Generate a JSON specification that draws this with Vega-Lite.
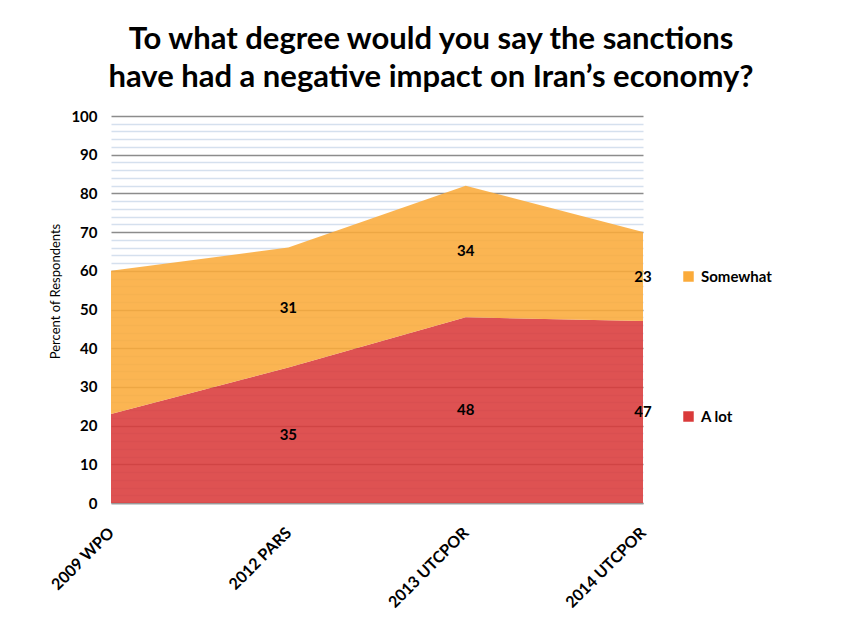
{
  "$schema": "https://vega.github.io/schema/vega-lite/v6.json",
  "autosize": "none",
  "width": 532,
  "height": 387,
  "padding": {"left": 111, "top": 116, "right": 208, "bottom": 121},
  "background": "white",
  "config": {
    "font": "Lato",
    "view": {"stroke": null}
  },
  "title": {
    "text": ["To what degree would you say the sanctions", "have had a negative impact on Iran’s economy?"],
    "font": "Lato",
    "fontSize": 31,
    "fontWeight": "bold",
    "color": "#000000",
    "anchor": "middle",
    "frame": "group",
    "dx": 54,
    "lineHeight": 38,
    "offset": 15
  },
  "data": {
    "values": [
      {"survey": "2009 WPO", "response": "A lot", "rank": 1, "value": 23},
      {"survey": "2009 WPO", "response": "Somewhat", "rank": 2, "value": 37},
      {"survey": "2012 PARS", "response": "A lot", "rank": 1, "value": 35},
      {"survey": "2012 PARS", "response": "Somewhat", "rank": 2, "value": 31},
      {"survey": "2013 UTCPOR", "response": "A lot", "rank": 1, "value": 48},
      {"survey": "2013 UTCPOR", "response": "Somewhat", "rank": 2, "value": 34},
      {"survey": "2014 UTCPOR", "response": "A lot", "rank": 1, "value": 47},
      {"survey": "2014 UTCPOR", "response": "Somewhat", "rank": 2, "value": 23}
    ]
  },
  "transform": [
    {"stack": "value", "groupby": ["survey"], "sort": [{"field": "rank", "order": "ascending"}], "as": ["y0", "y1"]},
    {"calculate": "(datum.y0 + datum.y1) / 2", "as": "ymid"}
  ],
  "encoding": {
    "x": {
      "field": "survey",
      "type": "ordinal",
      "scale": {"type": "point", "padding": 0},
      "axis": {
        "title": null,
        "labelAngle": -45,
        "labelAlign": "right",
        "labelBaseline": "middle",
        "labelFont": "Lato",
        "labelFontSize": 16,
        "labelFontWeight": "bold",
        "labelColor": "#000000",
        "labelPadding": 27,
        "labelOverlap": false,
        "ticks": false,
        "domain": true,
        "domainColor": "#999999",
        "domainWidth": 1.5,
        "grid": false
      }
    }
  },
  "layer": [
    {
      "mark": {"type": "area", "opacity": 0.88, "interpolate": "linear"},
      "encoding": {
        "y": {
          "field": "y0",
          "type": "quantitative",
          "scale": {"domain": [0, 100], "nice": false},
          "axis": {
            "title": "Percent of Respondents",
            "titleFont": "Lato",
            "titleFontSize": 13,
            "titleFontWeight": "normal",
            "titleColor": "#000000",
            "titleAngle": -90,
            "titleAlign": "center",
            "titleBaseline": "middle",
            "titleX": -56,
            "titleY": 175,
            "tickCount": 100,
            "values": [0,2,4,6,8,10,12,14,16,18,20,22,24,26,28,30,32,34,36,38,40,42,44,46,48,50,52,54,56,58,60,62,64,66,68,70,72,74,76,78,80,82,84,86,88,90,92,94,96,98,100],
            "labelExpr": "datum.value % 10 === 0 ? datum.label : ''",
            "labelOverlap": false,
            "labelFont": "Lato",
            "labelFontSize": 15,
            "labelFontWeight": "bold",
            "labelColor": "#000000",
            "labelPadding": 14,
            "ticks": false,
            "domain": false,
            "grid": true,
            "gridColor": {"condition": {"test": "datum.value % 10 === 0", "value": "#8c8c8c"}, "value": "#d5e0ee"},
            "gridWidth": 1.3
          }
        },
        "y2": {"field": "y1"},
        "order": {"field": "rank"},
        "color": {
          "field": "response",
          "type": "nominal",
          "scale": {"domain": ["Somewhat", "A lot"], "range": ["#fbab3a", "#d93a3a"]},
          "legend": {
            "title": null,
            "orient": "none",
            "legendX": 570,
            "legendY": 153,
            "symbolType": "square",
            "symbolSize": 110,
            "symbolOpacity": 1,
            "symbolStrokeWidth": 0,
            "labelFont": "Lato",
            "labelFontSize": 15,
            "labelFontWeight": "bold",
            "labelColor": "#000000",
            "rowPadding": 124,
            "labelOffset": 5
          }
        }
      }
    },
    {
      "transform": [{"filter": "datum.survey !== '2009 WPO'"}],
      "mark": {"type": "text", "font": "Lato", "fontSize": 15, "fontWeight": "bold", "color": "#000000", "align": "center", "baseline": "middle"},
      "encoding": {
        "y": {"field": "ymid", "type": "quantitative"},
        "text": {"field": "value", "type": "quantitative"}
      }
    }
  ]
}
